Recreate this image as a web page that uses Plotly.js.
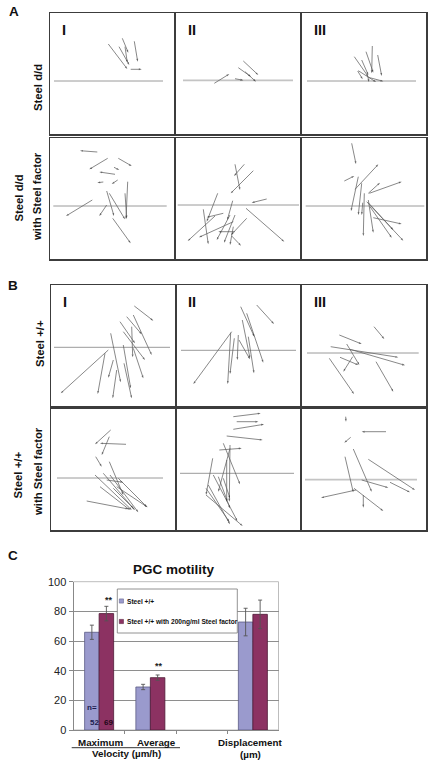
<!DOCTYPE html>
<html><head><meta charset="utf-8">
<script src="https://cdn.plot.ly/plotly-3.0.1.min.js"></script>
<style>html,body{margin:0;padding:0;background:#fff}#chart{width:430px;height:762px}</style>
</head><body><div id="chart"></div>
<script>
// ---------- DATA ----------
// Cell tracks: [xStart, yStart, xEnd, yEnd] in each field (µm-like units, field 124 x 121)
const tracks_dd_I = [[58.3,90,77.3,65],[69,87.3,79.3,69],[72.3,95.7,78.3,81.3],[84.3,92.7,87.7,72.3],[80.7,64.7,91.7,64.7],[75,87.3,77.3,71.3]];
const tracks_dd_II = [[38.3,50.7,53.3,60],[67.3,73,82.3,59],[62.3,66.3,75,57.3],[59,55.3,67.3,53.7],[69,62.3,80,52.3]];
const tracks_dd_III = [[52.3,77.3,66.3,57.3],[59.7,74,66.3,59],[70.3,88,69.7,60.7],[75.7,79,79.7,58],[64,82.3,71.3,61.3],[55.7,63,60.7,54.7],[56.3,63.3,74,52],[66.3,56.7,81.3,52.7],[65.7,58,67,52]];
const tracks_ddSF_I = [[47.3,107,30,108.3],[57.7,100.7,39.3,89.7],[68.3,100.7,81.7,93],[65,84.7,49.3,87],[64,91.7,69.3,89],[53.3,77,47.3,76.3],[67.7,79,61.7,75],[42.3,59,16,43],[56.7,68,64,43],[59.3,65.7,75,39.7],[77.7,77.3,76,39.7],[56.7,54,49.3,43],[62.7,40.7,80.7,15.7],[75,65.7,76.7,40.7]];
const tracks_ddSF_II = [[59,94.7,64,69],[68.3,94.7,58,83],[77.3,88.3,54.7,65.7],[90.7,60,75.7,56.3],[70,50.7,108.3,17.3],[41.7,65.7,30.7,37.3],[27.3,49.7,32.3,14.7],[47.3,45.7,30.7,41.7],[39,43,11.7,18],[56.7,58.3,51.3,39],[59,44,48,16.3],[57.3,37.3,23,21.7],[70.7,40.7,55,24],[54,44,40.7,19],[55.7,23,65,13.3],[57.3,32.3,54,14],[59,27.3,42.3,27.3]];
const tracks_ddSF_III = [[49.7,115.7,54,95],[53,69.7,76.3,94.7],[42.3,78,52.3,83],[67.3,65.7,99.7,77.3],[66.3,65.7,78,76.3],[56.3,82.3,49,48],[59.7,75.7,56.3,44],[62.3,65.7,61.3,23],[66.3,59,71.3,26.3],[64.7,57.3,101.3,18.3],[68,52.3,89.7,21.3],[71.3,41.3,99.7,35],[66.3,56.3,91.3,29],[60.7,56.3,59.7,44]];
const tracks_wt_I = [[83.3,100,102.3,85.3],[75.7,89.3,90.7,71.7],[82.3,91,100.7,51],[69,84.3,84,62.7],[80.7,79.3,81.7,48.7],[72.3,74.3,94,46],[57.3,56,9.7,12.7],[59.7,72.7,69.7,23.7],[54,52.7,46.7,12],[62.3,46,57.3,28.3],[65.7,36,61.7,7.7],[72.3,61,79.7,17.7],[73,42.7,80.7,7.7],[82.3,57.7,92.3,27.7]];
const tracks_wt_II = [[80.7,101,98,82],[64.7,99.3,78.3,69.3],[70.7,92.7,87.3,43.3],[66.3,86,74,47.7],[55.7,74.3,17.3,22],[54.7,73.3,51.7,22],[58.3,67.7,54,32],[62.3,71,61.3,46],[63,66,74,46.7],[72.3,69.3,78,32.7]];
const tracks_wt_III = [[72,79.3,82.3,67],[37.3,71,59.7,62],[28.7,59.3,96.3,48.7],[44.7,62,57.3,41],[48,56.7,103,40.7],[38,48.7,56.3,41],[50.7,49.3,41.3,34.3],[27.3,47.7,52,12],[74,44.3,91.3,14.3]];
const tracks_wtSF_I = [[59.7,100,44,85.7],[75,85.7,49,86.7],[58.3,93.3,50.7,75],[44.7,73.3,50.7,63.3],[58.3,68.3,72.3,35],[44,55,80.7,20],[52.3,56.7,82.3,21.7],[55.7,50,72.3,47.7],[49,43.3,79,20],[59,55,87.3,17.7],[67.3,51.7,95.7,23.3],[35.7,29,77.3,21],[62.3,41.7,84,20],[65.7,43.3,96.7,22.7]];
const tracks_wtSF_II = [[57.3,113.3,84.7,116.7],[60.7,108.3,82.3,108.3],[57.3,100.7,88,105.7],[50.7,94,86.7,90],[43.3,80,65.7,81.7],[36.7,71.7,30,35],[47.3,86.7,64,45.7],[54,85,53.3,28.3],[54,81.7,42.3,38.3],[50.7,70,50.7,28.3],[32.3,45,54,5.7],[30,35,66.7,4],[37.3,55,61.3,9],[42.3,53.3,54,21.7],[30,41.7,53.3,8.3],[47.3,51.7,54,31.7]];
const tracks_wtSF_III = [[43.7,113.3,44,108.3],[84,98.3,59.7,98.3],[48.7,92.7,42.3,87.3],[51.3,81,69.7,38.3],[43,73.3,51.3,37.7],[66.3,70.7,113,40],[54,40,19,32.3],[59.7,50,86.3,42.3],[88,47.7,108,37.7],[52,41.7,81.3,19],[61.3,35,61.3,22.3]];

// Reference (horizontal) line per field: level and extent
const refLineY  = [53, 53.7, 53,  53, 54, 53,  58.7, 55.7, 53,  52, 56.7, 50.3];
const refLineX0 = [4, 7, 5,  3.3, 1.7, 3.7,  3, 5, 5,  6, 4, 3];
const refLineX1 = [113, 117, 114,  116.7, 123, 122.3,  119, 120, 116.7,  112, 118, 115];

const fieldLabels = ["I", "II", "III"];
const rowLabels = ["Steel d/d", "Steel d/d|with Steel factor", "Steel +/+", "Steel +/+|with Steel factor"];
const panelLetters = ["A", "B", "C"];

// Panel C: PGC motility
const chartTitle = "PGC motility";
const measureNames = ["Maximum", "Average", "Displacement"];
const measurePos = [0, 1, 3];
const seriesNames = ["Steel +/+", "Steel +/+ with 200ng/ml Steel factor"];
const wtValues = [65.9, 29.0, 72.8];
const wtErrors = [4.8, 1.8, 9.3];
const sfValues = [78.5, 35.3, 78.0];
const sfErrors = [4.9, 1.8, 9.6];
const nCounts = ["52", "69"];
const yTicks = [0, 20, 40, 60, 80, 100];

// ---------- LAYOUT HELPERS ----------
const W = 430, H = 762;
const px = x => x / W;
const py = y => 1 - y / H;
const FONT = "Liberation Sans, Arial, sans-serif";

const allTracks = [tracks_dd_I, tracks_dd_II, tracks_dd_III, tracks_ddSF_I, tracks_ddSF_II, tracks_ddSF_III,
  tracks_wt_I, tracks_wt_II, tracks_wt_III, tracks_wtSF_I, tracks_wtSF_II, tracks_wtSF_III];
const colsA = [[50,174],[176,300],[302,426]];
const colsB = [[51,175],[176,300],[302,426]];
const rowsY = [[13,134],[138,259],[285,406],[409,530]];

const traces = [];
const layout = {
  width: W, height: H, margin: {l:0, r:0, t:0, b:0},
  paper_bgcolor: "#fff", plot_bgcolor: "rgba(0,0,0,0)",
  showlegend: false, barmode: "group", bargap: 0.434, bargroupgap: 0,
  font: {family: FONT, color: "#111"},
  annotations: [], shapes: []
};

allTracks.forEach((tr, i) => {
  const r = Math.floor(i / 3), c = i % 3;
  const cols = r < 2 ? colsA : colsB;
  const id = i + 1;
  const xa = id === 1 ? "x" : "x" + id, ya = id === 1 ? "y" : "y" + id;
  const axCommon = {showgrid:false, zeroline:false, showticklabels:false, ticks:"",
    showline:true, mirror:true, linecolor:"#3c3c3c", linewidth:1.5, fixedrange:true};
  layout["xaxis" + (id === 1 ? "" : id)] = Object.assign({}, axCommon,
    {domain:[px(cols[c][0]), px(cols[c][1])], range:[0,124], anchor: ya});
  layout["yaxis" + (id === 1 ? "" : id)] = Object.assign({}, axCommon,
    {domain:[py(rowsY[r][1]), py(rowsY[r][0])], range:[0,121], anchor: xa});
  // reference line
  const light = (i === 1 || i === 11);
  traces.push({type:"scatter", mode:"lines", xaxis:xa, yaxis:ya, hoverinfo:"skip",
    x:[refLineX0[i], refLineX1[i]], y:[refLineY[i], refLineY[i]],
    line:{color: light ? "#c4c4c4" : "#9a9a9a", width: light ? 1.8 : 1}});
  // tracks
  const xs = [], ys = [], sz = [];
  tr.forEach(t => { xs.push(t[0], t[2], null); ys.push(t[1], t[3], null); sz.push(0, 3, 0); });
  traces.push({type:"scatter", mode:"lines+markers", xaxis:xa, yaxis:ya, hoverinfo:"skip",
    x:xs, y:ys, connectgaps:false,
    line:{color:"#606060", width:0.75},
    marker:{symbol:"arrow", angleref:"previous", size:sz, color:"#222", line:{width:0}}});
  // field numeral (first row of each block only)
  if (r === 0 || r === 2) {
    layout.annotations.push({xref:"paper", yref:"paper", x:px(cols[c][0] + 9.5), y:py(rowsY[r][0] + 17),
      xanchor:"left", yanchor:"middle", showarrow:false, text:"<b>" + fieldLabels[c] + "</b>",
      font:{size:14.5, family:FONT, color:"#111"}});
  }
});

// Row labels (rotated)
const rowLabelPos = [[[38, 88]], [[18.5, 198],[37, 197]], [[40, 344]], [[17.5, 475],[38, 472]]];
rowLabels.forEach((lab, r) => {
  lab.split("|").forEach((part, k) => {
    const p = rowLabelPos[r][k];
    layout.annotations.push({xref:"paper", yref:"paper", x:px(p[0]), y:py(p[1]),
      xanchor:"center", yanchor:"middle", showarrow:false, textangle:-90,
      text:"<b>" + part + "</b>", font:{size:11.3, family:FONT, color:"#111"}});
  });
});

// Panel letters
[[13.5, 11],[12.5, 286],[12.5, 555]].forEach((p, k) => {
  layout.annotations.push({xref:"paper", yref:"paper", x:px(p[0]), y:py(p[1]),
    xanchor:"center", yanchor:"middle", showarrow:false,
    text:"<b>" + panelLetters[k] + "</b>", font:{size:13.5, family:FONT, color:"#111"}});
});

// ---------- PANEL C ----------
layout.xaxis13 = {domain:[px(73.5), px(278.5)], range:[-0.5, 3.5], anchor:"y13",
  tickvals:[0.5, 1.5, 2.5], ticks:"outside", ticklen:3, tickcolor:"#888", showticklabels:false,
  showline:true, linecolor:"#888", linewidth:1, showgrid:false, zeroline:false, fixedrange:true};
layout.yaxis13 = {domain:[py(730), py(581.7)], range:[0, 100], anchor:"x13",
  tickvals:yTicks, ticks:"outside", ticklen:4, tickcolor:"#888",
  showline:true, linecolor:"#888", linewidth:1, showgrid:true, gridcolor:"#8e8e8e", gridwidth:1,
  zeroline:false, tickfont:{size:11, family:FONT, color:"#222"}, fixedrange:true};

traces.push({type:"bar", name:seriesNames[0], x:measurePos, y:wtValues, xaxis:"x13", yaxis:"y13",
  marker:{color:"#9a9acd", line:{color:"#5b5b85", width:0.8}},
  error_y:{type:"data", array:wtErrors, visible:true, color:"#555", thickness:0.9, width:2}});
traces.push({type:"bar", name:seriesNames[1], x:measurePos, y:sfValues, xaxis:"x13", yaxis:"y13",
  marker:{color:"#8c3262", line:{color:"#4e1a36", width:0.8}},
  error_y:{type:"data", array:sfErrors, visible:true, color:"#555", thickness:0.9, width:2}});

// plot area border
layout.shapes.push({type:"rect", xref:"x13 domain", yref:"y13 domain", x0:0, x1:1, y0:0, y1:1,
  line:{color:"#bdbdbd", width:1}, layer:"below"});

// title
layout.annotations.push({xref:"paper", yref:"paper", x:px(173), y:py(569), xanchor:"center", yanchor:"middle",
  showarrow:false, text:"<b>" + chartTitle + "</b>", font:{size:13.5, family:FONT, color:"#111"}});

// legend (manual box)
layout.shapes.push({type:"rect", xref:"paper", yref:"paper", x0:px(117.3), x1:px(237.3), y0:py(633), y1:py(589),
  fillcolor:"#fff", line:{color:"#777", width:0.8}, layer:"above"});
[["#9a9acd","#5b5b85",601],["#8c3262","#4e1a36",621.5]].forEach((s, k) => {
  layout.shapes.push({type:"rect", xref:"paper", yref:"paper", x0:px(119.3), x1:px(123.5), y0:py(s[2]+2.1), y1:py(s[2]-2.1),
    fillcolor:s[0], line:{color:s[1], width:0.5}, layer:"above"});
  layout.annotations.push({xref:"paper", yref:"paper", x:px(125), y:py(s[2]), xanchor:"left", yanchor:"middle",
    showarrow:false, text:"<b>" + seriesNames[k] + "</b>", font:{size:6.6, family:FONT, color:"#111"}});
});

// significance + n labels
[[108.5, 600],[159, 666]].forEach(p => {
  layout.annotations.push({xref:"paper", yref:"paper", x:px(p[0]), y:py(p[1]), xanchor:"center", yanchor:"middle",
    showarrow:false, text:"<b>**</b>", font:{size:9, family:FONT, color:"#222"}});
});
layout.annotations.push({xref:"paper", yref:"paper", x:px(91.5), y:py(707), xanchor:"center", yanchor:"middle",
  showarrow:false, text:"<b>n=</b>", font:{size:8, family:FONT, color:"#1c1c4e"}});
layout.annotations.push({xref:"paper", yref:"paper", x:px(94), y:py(722), xanchor:"center", yanchor:"middle",
  showarrow:false, text:"<b>" + nCounts[0] + "</b>", font:{size:8, family:FONT, color:"#1c1c4e"}});
layout.annotations.push({xref:"paper", yref:"paper", x:px(108.7), y:py(722), xanchor:"center", yanchor:"middle",
  showarrow:false, text:"<b>" + nCounts[1] + "</b>", font:{size:8, family:FONT, color:"#220818"}});

// category labels
[[100, 742],[156.7, 742],[250, 742.5]].forEach((p, k) => {
  layout.annotations.push({xref:"paper", yref:"paper", x:px(p[0]), y:py(p[1]), xanchor:"center", yanchor:"middle",
    showarrow:false, text:"<b>" + measureNames[k] + "</b>", font:{size:9.8, family:FONT, color:"#111"}});
});
layout.annotations.push({xref:"paper", yref:"paper", x:px(126), y:py(753.5), xanchor:"center", yanchor:"middle",
  showarrow:false, text:"<b>Velocity (µm/h)</b>", font:{size:9.8, family:FONT, color:"#111"}});
layout.annotations.push({xref:"paper", yref:"paper", x:px(250), y:py(754), xanchor:"center", yanchor:"middle",
  showarrow:false, text:"<b>(µm)</b>", font:{size:9.8, family:FONT, color:"#111"}});
layout.shapes.push({type:"line", xref:"paper", yref:"paper", x0:px(71.7), x1:px(180), y0:py(747.7), y1:py(747.7),
  line:{color:"#333", width:1}});

Plotly.newPlot("chart", traces, layout, {staticPlot:true, displayModeBar:false});
</script></body></html>
